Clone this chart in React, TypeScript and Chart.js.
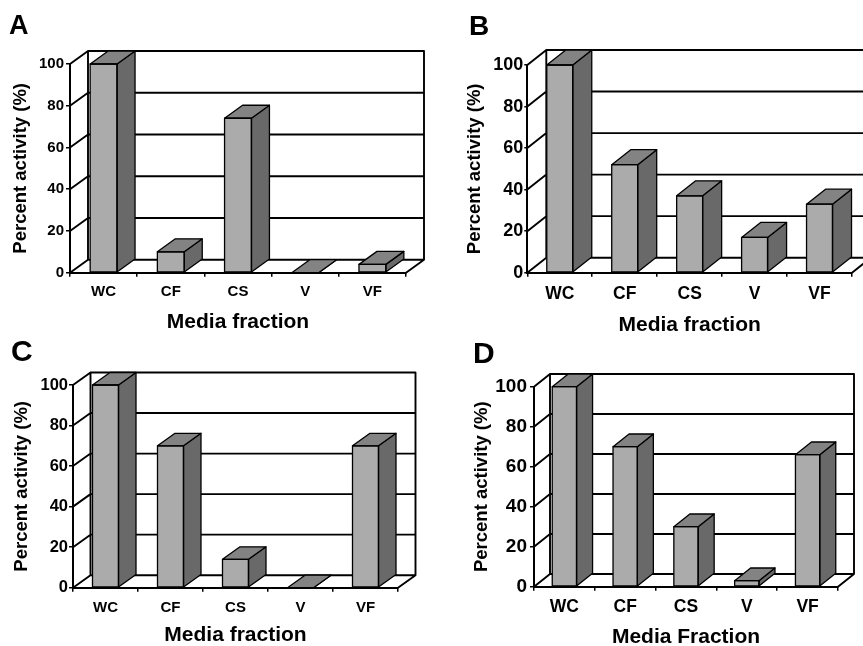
import React, { useEffect, useRef } from 'react';
import { Chart, registerables } from 'chart.js';

Chart.register(...registerables);

// ---- data ----
const categories = ['WC', 'CF', 'CS', 'V', 'VF'];
const yTickValues = [0, 20, 40, 60, 80, 100];
const valuesA = [100, 10, 74, 0, 4];
const valuesB = [100, 52, 37, 17, 33];
const valuesC = [100, 70, 14, 0, 70];
const valuesD = [100, 70, 30, 3, 66];
const panelLetters = ['A', 'B', 'C', 'D'];
const xTitles = ['Media fraction', 'Media fraction', 'Media fraction', 'Media Fraction'];
const yTitle = 'Percent activity (%)';

// ---- style ----
const FONT = '"Liberation Sans", Arial, Helvetica, sans-serif';
const FRONT = '#ababab';
const TOP = '#838383';
const SIDE = '#696969';

type PanelCfg = {
  values: number[];
  letter: string;
  xTitle: string;
  left: number;
  top: number;
  width: number;
  height: number;
  pad: { left: number; top: number; right: number; bottom: number };
  yW: number;
  xH: number;
  dx: number;
  dy: number;
  tickSize: number;
  catSize: number;
  yTl: number;
  yPad: number;
  xPad: number;
  yTitlePad: number;
  xTitlePad: number;
  letterX: number;
  letterY: number;
  letterSize: number;
};

const panels: PanelCfg[] = [
  {
    values: valuesA, letter: panelLetters[0], xTitle: xTitles[0],
    left: 0, top: 0, width: 431, height: 336,
    pad: { left: 0, top: 64, right: 25, bottom: 0 },
    yW: 70, xH: 63.3, dx: 18, dy: 13,
    tickSize: 15, catSize: 15, yTl: 4, yPad: 2, xPad: 6,
    yTitlePad: 11.5, xTitlePad: 5, letterX: 9, letterY: 34, letterSize: 27,
  },
  {
    values: valuesB, letter: panelLetters[1], xTitle: xTitles[1],
    left: 431, top: 0, width: 432, height: 336,
    pad: { left: 0, top: 65, right: 11, bottom: 0 },
    yW: 96.3, xH: 63.3, dx: 19, dy: 15,
    tickSize: 18, catSize: 17.5, yTl: 3, yPad: 1, xPad: 7,
    yTitlePad: 35, xTitlePad: 2.6, letterX: 38, letterY: 35, letterSize: 28,
  },
  {
    values: valuesC, letter: panelLetters[2], xTitle: xTitles[2],
    left: 0, top: 336, width: 431, height: 310,
    pad: { left: 0, top: 49, right: 33, bottom: 0 },
    yW: 73, xH: 58.3, dx: 17.5, dy: 12.5,
    tickSize: 16.5, catSize: 15, yTl: 4, yPad: 1, xPad: 7,
    yTitlePad: 12.5, xTitlePad: 2.6, letterX: 11, letterY: 25, letterSize: 30,
  },
  {
    values: valuesD, letter: panelLetters[3], xTitle: xTitles[3],
    left: 431, top: 336, width: 432, height: 310,
    pad: { left: 0, top: 50.7, right: 25, bottom: 0 },
    yW: 103, xH: 59.3, dx: 16, dy: 12.7,
    tickSize: 19, catSize: 17.5, yTl: 4, yPad: 3, xPad: 6,
    yTitlePad: 41.5, xTitlePad: 0.6, letterX: 42, letterY: 27, letterSize: 30,
  },
];

const threeD = {
  id: 'threeD',
  beforeDatasetsDraw(chart: any, _args: any, opts: any) {
    const { ctx, chartArea } = chart;
    const { left, right, top, bottom } = chartArea;
    const ys = chart.scales.y;
    const { dx, dy } = opts;
    ctx.save();
    ctx.strokeStyle = '#000';
    ctx.lineWidth = 1.9;
    ctx.lineCap = 'round';
    ctx.beginPath();
    ys.ticks.forEach((t: any) => {
      const py = ys.getPixelForValue(t.value);
      ctx.moveTo(left, py);
      ctx.lineTo(left + dx, py - dy);
      ctx.moveTo(left + dx, py - dy);
      ctx.lineTo(right + dx, py - dy);
    });
    ctx.moveTo(left + dx, top - dy);
    ctx.lineTo(left + dx, bottom - dy);
    ctx.moveTo(right + dx, top - dy);
    ctx.lineTo(right + dx, bottom - dy);
    ctx.moveTo(right, bottom);
    ctx.lineTo(right + dx, bottom - dy);
    ctx.stroke();
    ctx.restore();
  },
  afterDatasetsDraw(chart: any, _args: any, opts: any) {
    const { ctx } = chart;
    const { dx, dy } = opts;
    const meta = chart.getDatasetMeta(0);
    ctx.save();
    ctx.strokeStyle = '#000';
    ctx.lineWidth = 1.3;
    ctx.lineJoin = 'round';
    meta.data.forEach((bar: any) => {
      const { x, y, width, base } = bar.getProps(['x', 'y', 'width', 'base'], true);
      const l = x - width / 2;
      const r = x + width / 2;
      // side face
      ctx.beginPath();
      ctx.moveTo(r, y);
      ctx.lineTo(r + dx, y - dy);
      ctx.lineTo(r + dx, base - dy);
      ctx.lineTo(r, base);
      ctx.closePath();
      ctx.fillStyle = SIDE;
      ctx.fill();
      ctx.stroke();
      // top face
      ctx.beginPath();
      ctx.moveTo(l, y);
      ctx.lineTo(l + dx, y - dy);
      ctx.lineTo(r + dx, y - dy);
      ctx.lineTo(r, y);
      ctx.closePath();
      ctx.fillStyle = TOP;
      ctx.fill();
      ctx.stroke();
      // front outline
      ctx.strokeRect(l, y, width, base - y);
    });
    ctx.restore();
  },
  afterDraw(chart: any, _args: any, opts: any) {
    const { ctx } = chart;
    ctx.save();
    ctx.fillStyle = '#000';
    ctx.font = `bold ${opts.letterSize}px ${FONT}`;
    ctx.textBaseline = 'alphabetic';
    ctx.textAlign = 'left';
    ctx.fillText(opts.letter, opts.letterX, opts.letterY);
    ctx.restore();
  },
};

function Panel({ cfg }: { cfg: PanelCfg }) {
  const ref = useRef<HTMLCanvasElement | null>(null);
  useEffect(() => {
    if (!ref.current) return;
    Chart.defaults.font.family = FONT;
    const chart = new Chart(ref.current, {
      type: 'bar',
      data: {
        labels: categories,
        datasets: [
          {
            data: cfg.values,
            backgroundColor: FRONT,
            borderColor: '#000',
            borderWidth: 0,
            categoryPercentage: 1,
            barPercentage: 0.4,
          },
        ],
      },
      options: {
        responsive: false,
        animation: false,
        layout: { padding: cfg.pad },
        plugins: {
          legend: { display: false },
          tooltip: { enabled: false },
          threeD: {
            dx: cfg.dx,
            dy: cfg.dy,
            letter: cfg.letter,
            letterX: cfg.letterX,
            letterY: cfg.letterY,
            letterSize: cfg.letterSize,
          },
        } as any,
        scales: {
          x: {
            type: 'category',
            offset: true,
            grid: {
              display: true,
              offset: true,
              drawOnChartArea: false,
              drawTicks: true,
              tickLength: 4,
              color: '#000',
              lineWidth: 1.5,
            },
            border: { display: true, color: '#000', width: 2 },
            ticks: {
              color: '#000',
              font: { size: cfg.catSize, weight: 'bold' },
              padding: cfg.xPad,
              maxRotation: 0,
              autoSkip: false,
            },
            title: {
              display: true,
              text: cfg.xTitle,
              color: '#000',
              font: { size: 21, weight: 'bold', lineHeight: 0.8 },
              padding: { top: 0, bottom: cfg.xTitlePad },
            },
            afterFit: (s: any) => {
              s.height = cfg.xH;
            },
          },
          y: {
            min: 0,
            max: 100,
            afterBuildTicks: (s: any) => {
              s.ticks = yTickValues.map((v) => ({ value: v }));
            },
            grid: {
              display: true,
              drawOnChartArea: false,
              drawTicks: true,
              tickLength: cfg.yTl,
              color: '#000',
              lineWidth: 1.5,
            },
            border: { display: true, color: '#000', width: 2 },
            ticks: {
              color: '#000',
              font: { size: cfg.tickSize, weight: 'bold' },
              padding: cfg.yPad,
            },
            title: {
              display: true,
              text: yTitle,
              color: '#000',
              font: { size: 18.5, weight: 'bold', lineHeight: 1 },
              padding: { top: cfg.yTitlePad, bottom: 0 },
            },
            afterFit: (s: any) => {
              s.width = cfg.yW;
            },
          },
        } as any,
      },
      plugins: [threeD as any],
    });
    return () => chart.destroy();
  }, [cfg]);
  return (
    <canvas
      ref={ref}
      width={cfg.width}
      height={cfg.height}
      style={{ position: 'absolute', left: cfg.left, top: cfg.top, width: cfg.width, height: cfg.height }}
    />
  );
}

export default function App() {
  return (
    <div style={{ position: 'absolute', left: 0, top: 0, width: 863, height: 646, background: '#fff', overflow: 'hidden' }}>
      {panels.map((p) => (
        <Panel key={p.letter} cfg={p} />
      ))}
    </div>
  );
}
